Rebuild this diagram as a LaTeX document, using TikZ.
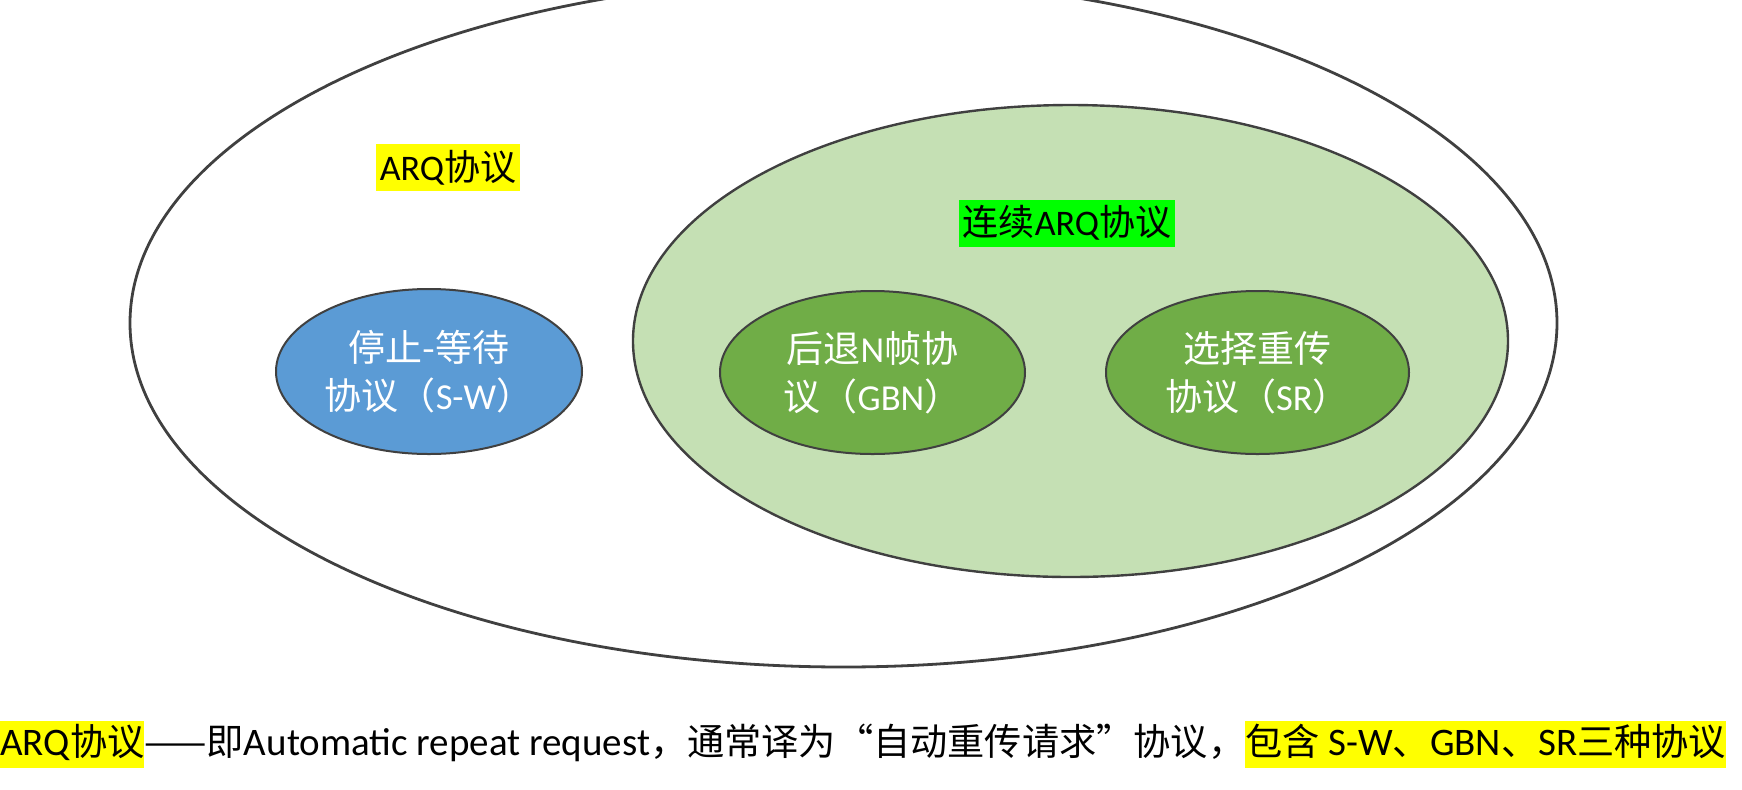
\documentclass[tikz,border=0pt]{standalone}
\usepackage{fontspec}
\setmainfont{Carlito}
\newfontfamily\cjk{Noto Sans CJK SC}
\usetikzlibrary{shapes.geometric}
\definecolor{outl}{HTML}{404040}
\definecolor{bluefill}{HTML}{5B9BD5}
\definecolor{greenfill}{HTML}{70AD47}
\definecolor{lightgreen}{HTML}{C5E0B4}
\definecolor{hlyellow}{HTML}{FFFF00}
\definecolor{hlgreen}{HTML}{00FF00}
\newcommand\zh[1]{{\cjk #1}}
\newcommand\zhb[1]{{\cjk\fontsize{18.6pt}{24pt}\selectfont #1}}
\newcommand\zhe[1]{{\cjk\fontsize{18.5pt}{24pt}\selectfont #1}}
\newcommand\hlbox[2]{{\setlength\fboxsep{0pt}\colorbox{#1}{\rule[-6.5pt]{0pt}{23.5pt}#2}}}
\tikzset{
  ell/.style={ellipse, inner sep=0pt, outer sep=0pt},
  inner/.style={ell, draw=outl, line width=1pt, text=white, align=center,
    font=\fontsize{18.3pt}{24pt}\selectfont},
  tag/.style={inner xsep=2pt, inner ysep=0pt, minimum height=23.5pt,
    font=\fontsize{18pt}{24pt}\selectfont}
}
\begin{document}
\begin{tikzpicture}[x=0.5pt,y=-0.5pt]
\useasboundingbox (0,0) rectangle (1742,789);
\clip (0,0) rectangle (1742,789);
\node[ell, draw=outl, line width=1.4pt, minimum width=713.5pt, minimum height=344pt] (arq) at (843.5,323) {};
\node[ell, draw=outl, fill=lightgreen, line width=1.2pt, minimum width=437.5pt, minimum height=236pt] (cont) at (1070.5,341) {};
\node[inner, fill=bluefill, minimum width=153pt, minimum height=82.5pt] (sw) at (429,371.5) {\zhe{停止-等待}\\\zhe{协议（}S-W\zhe{）}};
\node[inner, fill=greenfill, minimum width=152.5pt, minimum height=81.5pt] (gbn) at (872.5,372.5) {\zhe{后退}N\zhe{帧协}\\\zhe{议（}GBN\zhe{）}};
\node[inner, fill=greenfill, minimum width=151.5pt, minimum height=81.5pt] (sr) at (1257.5,372.5) {\zhe{选择重传}\\\zhe{协议（}SR\zhe{）}};
\node[tag, fill=hlyellow] (arqlabel) at (448,167.5) {ARQ\zh{协议}};
\node[tag, fill=hlgreen] (contlabel) at (1067,223) {\zh{连续}ARQ\zh{协议}};
\node[anchor=base west, inner sep=0pt, font=\fontsize{19.5pt}{24pt}\selectfont] (note) at (0,755)
  {\hlbox{hlyellow}{ARQ\zhb{协议}}\zhb{——即}Automatic repeat request\zhb{，通常译为“自动重传请求”协议，}\hlbox{hlyellow}{\zhb{包含} S-W\zhb{、}GBN\zhb{、}SR\zhb{三种协议}}};
\end{tikzpicture}
\end{document}
